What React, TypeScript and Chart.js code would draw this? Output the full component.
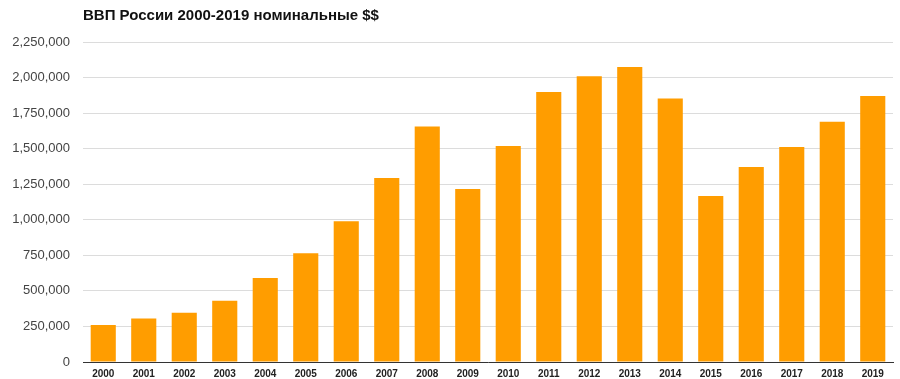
import React, { useEffect, useRef } from "react";
import { Chart, registerables } from "chart.js";

Chart.register(...registerables);

const years = ["2000","2001","2002","2003","2004","2005","2006","2007","2008","2009","2010","2011","2012","2013","2014","2015","2016","2017","2018","2019"];
const gdp = [259710, 306600, 345470, 430350, 591000, 764000, 989900, 1294000, 1655000, 1217000, 1519000, 1899000, 2009000, 2074000, 1852000, 1167000, 1371000, 1512000, 1690000, 1871000];
const yMax = 2250000;
const gridStep = 125000;
const labelStep = 250000;
const title = "ВВП России 2000-2019 номинальные $$";

export default function App() {
  const ref = useRef<HTMLCanvasElement | null>(null);
  useEffect(() => {
    if (!ref.current) return;
    const chart = new Chart(ref.current, {
      type: "bar",
      data: {
        labels: years,
        datasets: [{
          data: gdp,
          backgroundColor: "#ff9d00",
          borderWidth: 0,
          categoryPercentage: 1,
          barPercentage: 0.62,
        }],
      },
      options: {
        responsive: false,
        animation: false,
        layout: { padding: { left: 0, right: 7, top: 0, bottom: 0 } },
        plugins: {
          legend: { display: false },
          tooltip: { enabled: false },
          title: {
            display: true,
            text: title,
            align: "start",
            fullSize: false,
            color: "#111",
            font: { family: "'Liberation Sans', Arial, sans-serif", size: 15, weight: "bold" },
            padding: { top: 7, bottom: 17 },
          },
        },
        scales: {
          x: {
            grid: { display: false, drawTicks: false },
            border: { display: true, color: "#333", width: 1 },
            ticks: {
              color: "#222",
              padding: 6,
              maxRotation: 0,
              autoSkip: false,
              font: { family: "'Liberation Sans', Arial, sans-serif", size: 10, weight: "bold" },
            },
            afterFit: (s: any) => { s.height = 17; },
          },
          y: {
            min: 0,
            max: yMax,
            grid: { color: "#dcdcdc", drawTicks: false, lineWidth: 1 },
            border: { display: false },
            ticks: {
              stepSize: gridStep,
              padding: 13,
              color: "#444",
              font: { family: "'Liberation Sans', Arial, sans-serif", size: 13 },
              callback: (v: any) => (Number(v) % labelStep === 0 ? Number(v).toLocaleString("en-US") : ""),
            },
            afterFit: (s: any) => { s.width = 83; s.paddingTop = 0; s.paddingBottom = 0; },
          },
        },
      },
    });
    return () => chart.destroy();
  }, []);
  return (
    <div style={{ position: "fixed", left: 0, top: 0, width: 900, height: 379, background: "#fff" }}>
      <canvas ref={ref} width={900} height={379} style={{ display: "block" }} />
    </div>
  );
}
